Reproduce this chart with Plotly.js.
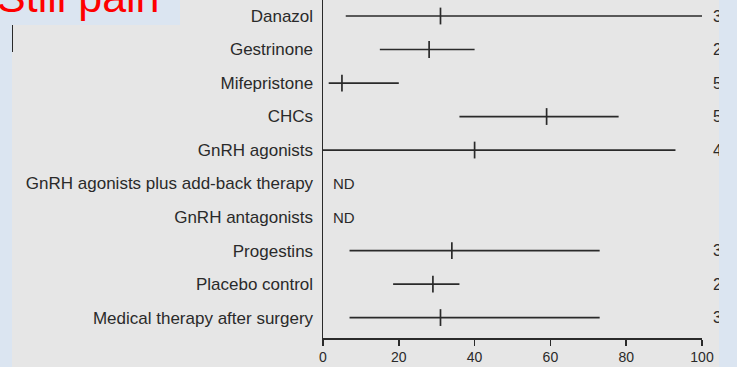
<!DOCTYPE html>
<html>
<head>
<meta charset="utf-8">
<script src="https://cdn.plot.ly/plotly-3.0.1.min.js"></script>
<style>
html,body{margin:0;padding:0;overflow:hidden;background:#dbe5f1}
#wrap{position:relative;width:737px;height:367px}
#chart{width:737px;height:367px}
#edge{position:absolute;left:719px;top:0;width:18px;height:367px;background:#dbe5f1;pointer-events:none}
</style>
</head>
<body>
<div id="wrap"><div id="chart"></div><div id="edge"></div></div>
<script>
const categories = ["Danazol","Gestrinone","Mifepristone","CHCs","GnRH agonists","GnRH agonists plus add-back therapy","GnRH antagonists","Progestins","Placebo control","Medical therapy after surgery"];
const lowValues = [6, 15, 1.5, 36, 0, null, null, 7, 18.5, 7];
const medianValues = [31, 28, 5, 59, 40, null, null, 34, 29, 31];
const highValues = [100, 40, 20, 78, 93, null, null, 73, 36, 73];
const rightLabels = ["3","2","5","5","4","","","3","2","3"];
const ndText = "ND";
const xTicks = [0, 20, 40, 60, 80, 100];
const titleText = "Still pain";

const ink = "#2a2a2a";
const font = "Liberation Sans, Arial, sans-serif";

const plusErr = medianValues.map((m, i) => m === null ? null : highValues[i] - m);
const minusErr = medianValues.map((m, i) => m === null ? null : m - lowValues[i]);

const ranges = {
  type: "scatter", mode: "markers",
  x: medianValues, y: categories,
  marker: {symbol: "line-ns-open", size: 12, color: ink, line: {color: ink, width: 1.7}},
  error_x: {type: "data", symmetric: false, array: plusErr, arrayminus: minusErr, width: 0, thickness: 1.7, color: ink},
  hoverinfo: "skip", showlegend: false, cliponaxis: false
};

const W = 379, H = 338;
const px = v => (v - 323) / W;
const py = v => 1 - v / H;

const ndAnnotations = categories.map((c, i) => medianValues[i] === null ? {
  x: 2, y: c, xref: "x", yref: "y", text: ndText, showarrow: false,
  xanchor: "left", yanchor: "middle", font: {family: font, size: 15, color: ink}
} : null).filter(a => a);

const rightAnnotations = categories.map((c, i) => rightLabels[i] ? {
  x: px(711), y: c, xref: "paper", yref: "y", text: rightLabels[i], showarrow: false,
  xanchor: "left", yanchor: "middle", font: {family: font, size: 16, color: ink}
} : null).filter(a => a);

const layout = {
  width: 737, height: 367,
  margin: {l: 323, r: 35, t: 0, b: 29, pad: 0},
  paper_bgcolor: "#dbe5f1",
  plot_bgcolor: "rgba(0,0,0,0)",
  xaxis: {
    range: [0, 100], tickvals: xTicks, ticktext: xTicks.map(String),
    ticks: "outside", ticklen: 6, tickwidth: 1.5, tickcolor: ink,
    showline: true, linecolor: ink, linewidth: 1.5,
    showgrid: false, zeroline: false,
    tickfont: {family: font, size: 14, color: ink}
  },
  yaxis: {
    type: "category", categoryorder: "array", categoryarray: categories,
    range: [9.61, -0.478],
    showline: true, linecolor: ink, linewidth: 1.5,
    ticks: "", showgrid: false, zeroline: false, ticklabelstandoff: 5,
    tickfont: {family: font, size: 17, color: ink}
  },
  shapes: [
    {type: "rect", layer: "below", xref: "paper", yref: "paper", x0: px(12), x1: px(719), y0: -0.2, y1: 1.2, fillcolor: "#e6e6e6", line: {width: 0}},
    {type: "rect", layer: "below", xref: "paper", yref: "paper", x0: -1, x1: px(180), y0: py(25), y1: 1.2, fillcolor: "#dbe5f1", line: {width: 0}},
    {type: "line", layer: "below", xref: "paper", yref: "paper", x0: px(12.5), x1: px(12.5), y0: py(52), y1: py(25), line: {color: ink, width: 1}}
  ],
  annotations: ndAnnotations.concat(rightAnnotations, [{
    xref: "paper", yref: "paper", x: px(-5), y: py(-3), xanchor: "left", yanchor: "middle",
    text: titleText, showarrow: false, font: {family: font, size: 43, color: "#ff0000"}
  }]),
  showlegend: false
};

Plotly.newPlot("chart", [ranges], layout, {displayModeBar: false, staticPlot: true});
</script>
</body>
</html>
